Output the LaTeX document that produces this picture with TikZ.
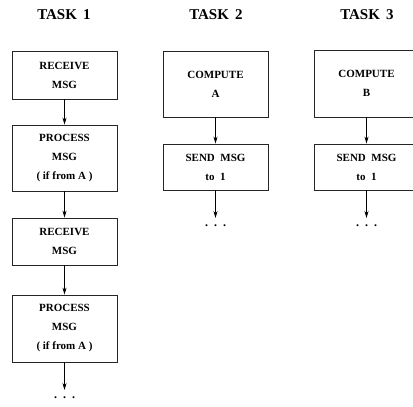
\documentclass[tikz,border=0pt]{standalone}
\usepackage{fontspec}
\setmainfont{Liberation Serif}
\usetikzlibrary{arrows.meta}
\begin{document}
\begin{tikzpicture}[x=1pt,y=-1pt,
  taskbox/.style={draw=black!85,line width=0.8pt,minimum width=105pt,inner sep=0pt,align=center,
    font=\bfseries\fontsize{11}{19}\selectfont},
  title/.style={font=\bfseries\fontsize{15}{18}\selectfont},
  arr/.style={line width=0.7pt,-{Stealth[length=7pt,width=4pt]}},
  dotsnode/.style={font=\bfseries\fontsize{12}{12}\selectfont,inner sep=0pt}]
\useasboundingbox (0,0) rectangle (413,407);
\clip (0,0) rectangle (413,407);
% titles
\node[title] (t1) at (64,15) {TASK\ \,1};
\node[title] (t2) at (216,15) {TASK\ \,2};
\node[title] (t3) at (367,15) {TASK\ \,3};
% task 1
\node[taskbox,minimum height=48pt] (a1) at (64.5,75) {RECEIVE\\MSG};
\node[taskbox,minimum height=66pt] (a2) at (64.5,158) {PROCESS\\MSG\\( if from A )};
\node[taskbox,minimum height=47pt] (a3) at (64.5,241.5) {RECEIVE\\MSG};
\node[taskbox,minimum height=67pt] (a4) at (64.5,328.5) {PROCESS\\MSG\\( if from A )};
\coordinate (ae) at (64.5,390);
\node[dotsnode] (ad) at (64.5,398) {.\ \ .\ \ .};
\draw[arr] (a1) -- (a2);
\draw[arr] (a2) -- (a3);
\draw[arr] (a3) -- (a4);
\draw[arr] (a4) -- (ae);
% task 2
\node[taskbox,minimum height=66pt] (b1) at (215.5,84) {COMPUTE\\A};
\node[taskbox,minimum height=46pt] (b2) at (215.5,167) {SEND\ \ MSG\\to\ \ 1};
\coordinate (be) at (215.5,218);
\node[dotsnode] (bd) at (215.5,226) {.\ \ .\ \ .};
\draw[arr] (b1) -- (b2);
\draw[arr] (b2) -- (be);
% task 3
\node[taskbox,minimum height=67pt] (c1) at (366.5,83.5) {COMPUTE\\B};
\node[taskbox,minimum height=46pt] (c2) at (366.5,167) {SEND\ \ MSG\\to\ \ 1};
\coordinate (ce) at (366.5,218);
\node[dotsnode] (cd) at (366.5,226) {.\ \ .\ \ .};
\draw[arr] (c1) -- (c2);
\draw[arr] (c2) -- (ce);
\end{tikzpicture}
\end{document}
